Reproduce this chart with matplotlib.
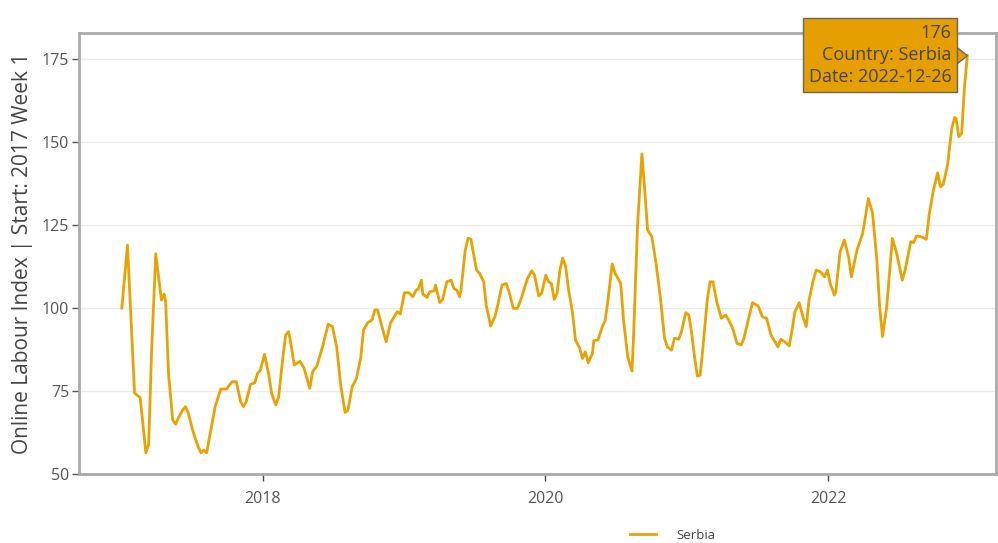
import numpy as np
import pandas as pd
import matplotlib
matplotlib.use("Agg")
import matplotlib.pyplot as plt
import matplotlib.dates as mdates
import matplotlib.transforms as mtransforms
from matplotlib.patches import Polygon

plt.rcParams['font.family'] = ['Open Sans', 'DejaVu Sans']

country = "Serbia"
y_label = "Online Labour Index | Start: 2017 Week 1"

t_years = [2017.00, 2017.04, 2017.09, 2017.13, 2017.17, 2017.19, 2017.21, 2017.24, 2017.28, 2017.30,
           2017.31, 2017.33, 2017.36, 2017.38, 2017.40, 2017.43, 2017.45, 2017.47, 2017.50, 2017.54,
           2017.56, 2017.58, 2017.60, 2017.63, 2017.66, 2017.70, 2017.74, 2017.78, 2017.81, 2017.84,
           2017.86, 2017.88, 2017.91, 2017.94, 2017.96, 2017.98, 2018.01, 2018.04, 2018.06, 2018.09,
           2018.11, 2018.14, 2018.16, 2018.18, 2018.20, 2018.22, 2018.26, 2018.29, 2018.33, 2018.35,
           2018.38, 2018.42, 2018.46, 2018.49, 2018.52, 2018.55, 2018.58, 2018.60, 2018.63, 2018.66,
           2018.69, 2018.71, 2018.74, 2018.77, 2018.79, 2018.81, 2018.84, 2018.87, 2018.90, 2018.92,
           2018.95, 2018.97, 2019.00, 2019.03, 2019.06, 2019.08, 2019.10, 2019.12, 2019.13, 2019.16,
           2019.18, 2019.21, 2019.22, 2019.25, 2019.27, 2019.30, 2019.33, 2019.35, 2019.37, 2019.39,
           2019.40, 2019.43, 2019.45, 2019.47, 2019.51, 2019.53, 2019.56, 2019.58, 2019.61, 2019.64,
           2019.66, 2019.69, 2019.72, 2019.74, 2019.77, 2019.80, 2019.83, 2019.87, 2019.90, 2019.92,
           2019.95, 2019.97, 2020.00, 2020.02, 2020.04, 2020.06, 2020.08, 2020.10, 2020.12, 2020.14,
           2020.16, 2020.19, 2020.21, 2020.24, 2020.26, 2020.28, 2020.30, 2020.33, 2020.34, 2020.37,
           2020.40, 2020.42, 2020.44, 2020.47, 2020.49, 2020.53, 2020.55, 2020.58, 2020.61, 2020.62,
           2020.65, 2020.68, 2020.70, 2020.72, 2020.75, 2020.78, 2020.81, 2020.84, 2020.86, 2020.89,
           2020.91, 2020.94, 2020.96, 2020.99, 2021.01, 2021.03, 2021.05, 2021.07, 2021.09, 2021.11,
           2021.14, 2021.16, 2021.18, 2021.21, 2021.24, 2021.27, 2021.29, 2021.32, 2021.35, 2021.38,
           2021.40, 2021.43, 2021.46, 2021.50, 2021.53, 2021.56, 2021.59, 2021.62, 2021.64, 2021.66,
           2021.69, 2021.72, 2021.74, 2021.76, 2021.79, 2021.82, 2021.84, 2021.86, 2021.89, 2021.91,
           2021.94, 2021.97, 2021.99, 2022.01, 2022.04, 2022.05, 2022.08, 2022.11, 2022.14, 2022.16,
           2022.20, 2022.24, 2022.28, 2022.31, 2022.34, 2022.36, 2022.38, 2022.41, 2022.45, 2022.48,
           2022.52, 2022.54, 2022.58, 2022.60, 2022.62, 2022.65, 2022.69, 2022.71, 2022.74, 2022.77,
           2022.79, 2022.81, 2022.84, 2022.87, 2022.89, 2022.90, 2022.92, 2022.94, 2022.96]

values = [100.0, 119.0, 74.4, 73.0, 56.4, 59.0, 86.4, 116.3, 102.4, 104.2,
          101.9, 80.4, 66.3, 65.0, 66.9, 69.3, 70.3, 68.4, 63.3, 58.2,
          56.4, 57.2, 56.4, 63.3, 70.3, 75.6, 75.6, 77.8, 77.8, 71.8,
          70.3, 71.8, 77.0, 77.5, 80.3, 81.3, 86.1, 79.8, 74.3, 70.8,
          73.3, 85.3, 91.9, 92.9, 88.3, 82.8, 84.0, 81.8, 75.8, 80.8,
          82.5, 88.3, 95.1, 94.4, 88.3, 76.3, 68.5, 69.3, 76.3, 78.8,
          85.0, 93.4, 95.6, 96.4, 99.4, 99.4, 94.4, 89.8, 95.4, 96.9,
          98.9, 98.2, 104.6, 104.6, 103.4, 105.2, 105.9, 108.4, 104.2, 103.2,
          104.9, 105.2, 106.9, 101.6, 102.6, 107.9, 108.4, 105.9, 105.4, 103.4,
          105.4, 117.5, 121.0, 120.7, 111.4, 110.5, 108.0, 100.4, 94.6, 97.4,
          100.9, 106.9, 107.4, 104.9, 99.9, 99.9, 103.4, 108.9, 111.2, 109.9,
          103.6, 104.4, 109.9, 107.9, 107.4, 102.6, 104.4, 111.4, 115.0, 112.7,
          105.9, 98.4, 90.4, 87.9, 84.8, 86.8, 83.5, 86.3, 90.2, 90.4,
          94.4, 96.2, 102.4, 113.3, 110.5, 107.4, 96.4, 85.3, 81.0, 90.4,
          125.5, 146.4, 135.5, 123.5, 121.5, 113.5, 103.4, 90.9, 88.3, 87.3,
          90.9, 90.6, 92.9, 98.6, 97.9, 92.4, 85.3, 79.5, 79.8, 88.3,
          102.4, 107.9, 107.9, 101.4, 96.9, 97.9, 96.5, 93.9, 89.4, 88.9,
          90.9, 96.4, 101.6, 100.6, 97.4, 96.9, 91.9, 89.8, 88.3, 90.6,
          89.8, 88.6, 93.4, 98.9, 101.6, 96.9, 94.4, 102.4, 108.4, 111.4,
          110.9, 109.4, 111.4, 107.4, 103.9, 104.9, 116.9, 120.5, 115.5, 109.4,
          117.5, 122.5, 133.0, 128.5, 114.5, 100.4, 91.4, 100.4, 121.0, 116.5,
          108.4, 111.4, 120.0, 119.7, 121.7, 121.5, 120.7, 128.0, 135.5, 140.7,
          136.5, 137.3, 143.1, 154.1, 157.4, 157.1, 151.6, 152.6, 166.7]

last_date = "2022-12-26"
last_value = 176


def year_to_date(y):
    yr = int(np.floor(y))
    return pd.Timestamp(yr, 1, 2) + pd.Timedelta(days=(y - yr) * 365.25)


dates = [year_to_date(y) for y in t_years] + [pd.Timestamp(last_date)]
vals = values + [last_value]

line_color = "#E8A202"

fig = plt.figure(figsize=(9.98, 5.43), dpi=100)
ax = fig.add_axes([0.079, 0.127, 0.919, 0.812])

ax.plot(dates, vals, color=line_color, lw=2, label=country, zorder=3)

ax.set_ylim(50, 182.8)
ax.set_xlim(pd.Timestamp("2016-09-13"), pd.Timestamp("2023-03-10"))
ax.set_yticks([50, 75, 100, 125, 150, 175])
ax.xaxis.set_major_locator(mdates.YearLocator(2))
ax.xaxis.set_major_formatter(mdates.DateFormatter("%Y"))

ax.grid(axis="y", color="#ebebeb", lw=1)
ax.set_axisbelow(True)
for s in ax.spines.values():
    s.set_color("#aaaaaa")
    s.set_linewidth(2)

ax.tick_params(axis="y", colors="#555555", labelsize=11.5, length=5, width=1, pad=2)
ax.tick_params(axis="x", colors="#444444", labelcolor="#555555", labelsize=11.5, length=5, width=1, pad=7)
ax.set_ylabel(y_label, fontsize=15, color="#444444", labelpad=6)

# hover label
x_last = mdates.date2num(pd.Timestamp(last_date))
ax.annotate(f"{last_value}\nCountry: {country}\nDate: {last_date}",
            xy=(x_last, last_value), xytext=(-11.5, 0.5), textcoords="offset points",
            ha="right", va="center", fontsize=13, color="#444444", linespacing=1.3,
            bbox=dict(boxstyle="square,pad=0.3", fc="#E69F00", ec="#666666", lw=1),
            annotation_clip=False, zorder=5)
tri_trans = fig.dpi_scale_trans + mtransforms.ScaledTranslation(x_last, last_value, ax.transData)
ax.add_patch(Polygon([[0, 0], [-0.1, 0.08], [-0.1, -0.08]], closed=True,
                     transform=tri_trans, fc="#E69F00", ec="#666666", lw=1,
                     clip_on=False, zorder=4))

fig.legend(loc="lower center", bbox_to_anchor=(0.674, -0.02), frameon=False,
           fontsize=9.5, handlelength=2.0, handletextpad=1.5, labelcolor="#444444")

fig.savefig("out.png", dpi=100)
